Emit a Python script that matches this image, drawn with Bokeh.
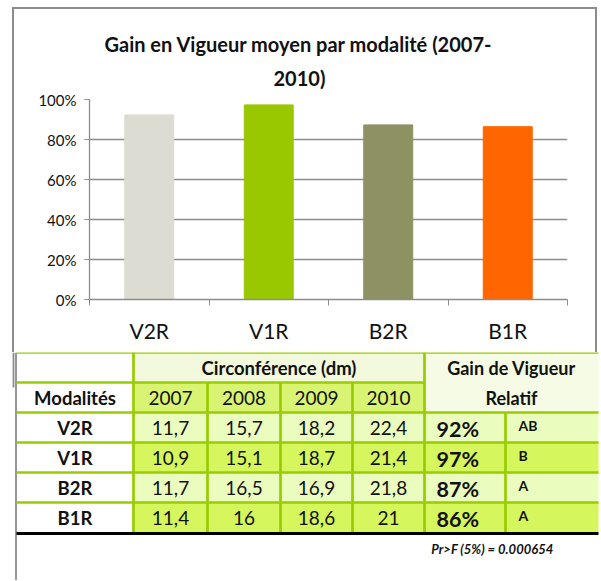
from bokeh.plotting import figure
from bokeh.models import (Range1d, LinearAxis, FixedTicker, Title,
                          NumeralTickFormatter, ColumnDataSource)
from bokeh.embed import file_html
from bokeh.resources import INLINE
from bokeh.core.properties import value

# ---------------- data ----------------
modalites = ["V2R", "V1R", "B2R", "B1R"]
gain_relatif = [0.923, 0.973, 0.873, 0.864]
lettres = ["AB", "B", "A", "A"]
annees = ["2007", "2008", "2009", "2010"]
circ_2007 = [11.7, 10.9, 11.7, 11.4]
circ_2008 = [15.7, 15.1, 16.5, 16.0]
circ_2009 = [18.2, 18.7, 16.9, 18.6]
circ_2010 = [22.4, 21.4, 21.8, 21.0]
bar_colors = ["#dcdcd2", "#99c800", "#8e9162", "#ff6600"]
title_lines = ["Gain en Vigueur moyen par modalité (2007-", "2010)"]
y_ticks = [0, 0.2, 0.4, 0.6, 0.8, 1.0]
header_circ = "Circonférence (dm)"
header_gain = ["Gain de Vigueur", "Relatif"]
header_mod = "Modalités"
footnote = "Pr>F (5%) = 0.000654"

# ---------------- layout constants (page pixels) ----------------
FONT = "Lato"
W = 600
TOP_H = 352
TAB_H = 228
FRAME_L, FRAME_R, FRAME_T, FRAME_B = 89, 567, 99, 299
GREY = "#8c8c8c"
GREEN = "#99cc00"
TXT = "#111111"

n = len(modalites)
centers = [i + 0.5 for i in range(n)]

# chart frame drawn as layered inset shadows of the figure element
frame_css = ("inset 0 7px 0 0 white, inset 12px 0 0 0 white, inset -3px 0 0 0 white, "
             "inset 0 9px 0 0 #8c8c8c, inset 14px 0 0 0 #8c8c8c, inset -5px 0 0 0 #8c8c8c")

# ---------------- bar chart ----------------
p = figure(width=W, height=TOP_H,
           x_range=Range1d(0, n), y_range=Range1d(0, 1),
           output_backend="svg", toolbar_location=None,
           x_axis_location=None, y_axis_location=None,
           min_border_left=FRAME_L, min_border_right=W - FRAME_R,
           min_border_top=FRAME_T, min_border_bottom=TOP_H - FRAME_B,
           styles={"box-shadow": frame_css})
p.outline_line_color = None
p.background_fill_color = None
p.border_fill_color = None
p.xgrid.grid_line_color = None
p.ygrid.ticker = FixedTicker(ticks=y_ticks[1:])
p.ygrid.grid_line_color = GREY
p.ygrid.grid_line_width = 1.3

yax = LinearAxis(ticker=FixedTicker(ticks=y_ticks),
                 formatter=NumeralTickFormatter(format="0%"))
yax.axis_line_color = GREY
yax.axis_line_width = 1.3
yax.major_tick_line_color = GREY
yax.major_tick_out = 5
yax.major_tick_in = 0
yax.minor_tick_line_color = None
yax.major_label_text_font = FONT
yax.major_label_text_font_size = "15px"
yax.major_label_text_color = TXT
yax.major_label_standoff = 8
p.add_layout(yax, "left")

# axis line + ticks at category boundaries
eax = LinearAxis(ticker=FixedTicker(ticks=list(range(n + 1))))
eax.axis_line_color = GREY
eax.axis_line_width = 1.3
eax.major_tick_line_color = GREY
eax.major_tick_out = 6
eax.major_tick_in = 0
eax.minor_tick_line_color = None
eax.major_label_text_alpha = 0
eax.major_label_text_font_size = "1px"
eax.major_label_standoff = 0
p.add_layout(eax, "below")

# category labels at bar centres
cax = LinearAxis(ticker=FixedTicker(ticks=centers),
                 major_label_overrides={c: m for c, m in zip(centers, modalites)})
cax.axis_line_color = None
cax.major_tick_line_color = None
cax.minor_tick_line_color = None
cax.major_label_text_font = FONT
cax.major_label_text_font_size = "21px"
cax.major_label_text_color = TXT
cax.major_label_standoff = 6
p.add_layout(cax, "below")

src = ColumnDataSource(dict(x=centers, top=gain_relatif, color=bar_colors))
p.vbar(x="x", top="top", width=0.41, color="color", source=src)

# two-line title: the line added first sits closest to the frame
p.add_layout(Title(text=title_lines[1], align="left", offset=273 - FRAME_L, standoff=19,
                   text_font=FONT, text_font_style="bold", text_font_size="20px",
                   text_color=TXT), "above")
p.add_layout(Title(text=title_lines[0], align="left", offset=104 - FRAME_L, standoff=-3,
                   text_font=FONT, text_font_style="bold", text_font_size="20px",
                   text_color=TXT), "above")

# ---------------- table ----------------
TOP = TOP_H
ROW_H = 30
COL_X = [16, 133, 207, 280, 352, 424, 505, 598]
t = figure(width=W, height=TAB_H,
           x_range=Range1d(0, W), y_range=Range1d(TOP + TAB_H, TOP),
           output_backend="svg", toolbar_location=None,
           x_axis_location=None, y_axis_location=None, min_border=0)
t.outline_line_color = None
t.xgrid.visible = False
t.ygrid.visible = False
t.border_fill_color = None
t.background_fill_color = None

def row_top(i):
    return TOP + i * ROW_H

# fills
t.quad(left=[COL_X[1]], right=[COL_X[5]], top=[row_top(0)], bottom=[row_top(1)],
       fill_color="#f3f9dd", line_color=None)
t.quad(left=[COL_X[5]], right=[COL_X[7]], top=[row_top(0)], bottom=[row_top(2)],
       fill_color="#f5fbe4", line_color=None)
t.quad(left=[COL_X[1]], right=[COL_X[5]], top=[row_top(1)], bottom=[row_top(2)],
       fill_color="#d8f472", line_color=None)
row_fill = ["#eafcbe" if i % 2 == 0 else "#d5f65c" for i in range(n)]
t.quad(left=[COL_X[1]] * n, right=[COL_X[7]] * n,
       top=[row_top(2 + i) for i in range(n)], bottom=[row_top(3 + i) for i in range(n)],
       fill_color=row_fill, line_color=None)

# grey frame lines
t.segment(x0=[13, 15.5], y0=[TOP, TOP], x1=[13, 15.5], y1=[387, TOP + TAB_H],
          line_color=GREY, line_width=1.8)

# green borders
hx0, hx1, hy = [], [], []
hx0.append(COL_X[0]); hx1.append(COL_X[7]); hy.append(row_top(0))
hx0.append(COL_X[0]); hx1.append(COL_X[5]); hy.append(row_top(1))
for i in range(2, 2 + n):
    hx0.append(COL_X[0]); hx1.append(COL_X[7]); hy.append(row_top(i))
t.segment(x0=hx0, y0=hy, x1=hx1, y1=hy, line_color=GREEN, line_width=2.7)
vx, vy0, vy1 = [], [], []
for c in (1, 5):
    vx.append(COL_X[c]); vy0.append(row_top(0)); vy1.append(row_top(2 + n))
for c in (2, 3, 4):
    vx.append(COL_X[c]); vy0.append(row_top(1)); vy1.append(row_top(2 + n))
vx.append(COL_X[6]); vy0.append(row_top(2)); vy1.append(row_top(2 + n))
t.segment(x0=vx, y0=vy0, x1=vx, y1=vy1, line_color=GREEN, line_width=2.7)
t.segment(x0=[COL_X[0]], y0=[row_top(2 + n) + 1], x1=[COL_X[7]], y1=[row_top(2 + n) + 1],
          line_color="black", line_width=3)

def ctext(xs, ys, texts, size, style="normal", align="center", baseline="middle"):
    t.text(x=xs, y=ys, text=texts, text_font=value(FONT), text_font_size=size,
           text_font_style=style, text_align=align, text_baseline=baseline,
           text_color=TXT)

def cx(c):
    return (COL_X[c] + COL_X[c + 1]) / 2

def cy(i):
    return row_top(i) + ROW_H / 2

ctext([(COL_X[1] + COL_X[5]) / 2], [cy(0)], [header_circ], "18.5px", "bold")
ctext([(COL_X[5] + COL_X[7]) / 2] * 2, [cy(0), cy(1)], header_gain, "18px", "bold")
ctext([cx(0)], [cy(1)], [header_mod], "18.5px", "bold")
ctext([cx(1 + j) for j in range(4)], [cy(1)] * 4, annees, "19px")
ctext([cx(0)] * n, [cy(2 + i) for i in range(n)], modalites, "18.5px", "bold")

def fmt(v):
    return f"{v:g}".replace(".", ",")

for j, col in enumerate([circ_2007, circ_2008, circ_2009, circ_2010]):
    ctext([cx(1 + j)] * n, [cy(2 + i) for i in range(n)], [fmt(v) for v in col], "19px")
ctext([COL_X[5] + 12] * n, [cy(2 + i) + 1.5 for i in range(n)],
      [f"{round(g * 100)}%" for g in gain_relatif], "21.5px", "bold", align="left")
ctext([COL_X[6] + 13] * n, [cy(2 + i) - 2.5 for i in range(n)], lettres, "14px", "bold",
      align="left")
ctext([553], [548], [footnote], "13px", "bold italic", align="right")

open("out.html", "w").write(file_html([p, t], INLINE))
